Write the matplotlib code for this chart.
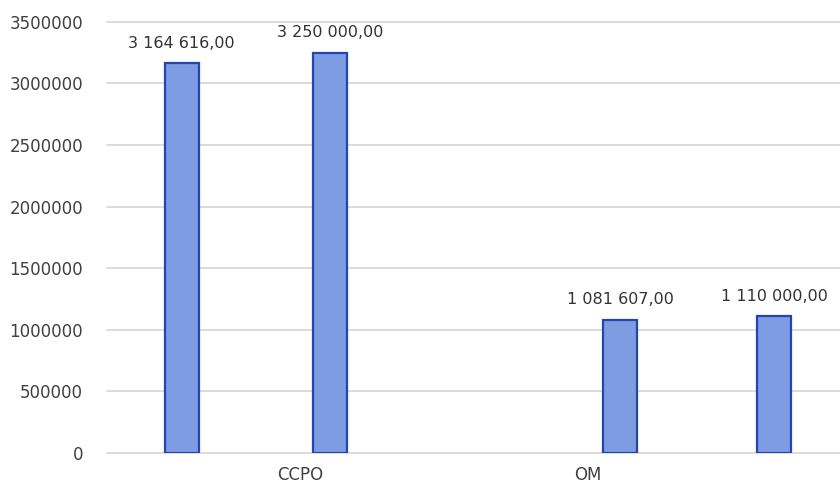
import matplotlib.pyplot as plt
import numpy as np

# суми по статтях
categories = ['CCPO', 'OM']
category_pos = [0.8, 2.74]
bar_pos = [0.0, 1.0, 2.96, 4.0]
values = [3164616.00, 3250000.00, 1081607.00, 1110000.00]
value_labels = ['3 164 616,00', '3 250 000,00', '1 081 607,00', '1 110 000,00']
yticks = np.arange(0, 3500001, 500000)

fig = plt.figure(figsize=(8.4, 4.84), dpi=100)
ax = fig.add_axes([0.127, 0.064, 0.873, 0.891])

bars = ax.bar(bar_pos, values, width=0.23, color='#7d9ce2',
              edgecolor='#2445b0', linewidth=1.6, zorder=3)

for b, txt in zip(bars, value_labels):
    ax.annotate(txt, (b.get_x() + b.get_width() / 2, b.get_height()),
                xytext=(0, 9), textcoords='offset points',
                ha='center', va='bottom', fontsize=11.5, color='#333333')

ax.set_ylim(0, 3500000)
ax.set_xlim(-0.507, 4.446)
ax.set_yticks(yticks)
ax.set_yticklabels([str(v) for v in yticks])
ax.set_xticks(category_pos)
ax.set_xticklabels(categories)

ax.grid(axis='y', color='#d6d6d6', linewidth=1.2, zorder=0)
for gl in ax.get_ygridlines():
    gl.set_clip_on(False)
ax.tick_params(length=0, labelsize=12, colors='#404040')
ax.tick_params(axis='y', pad=17)
ax.tick_params(axis='x', pad=9)
for s in ax.spines.values():
    s.set_visible(False)

fig.savefig('out.png', dpi=100)
